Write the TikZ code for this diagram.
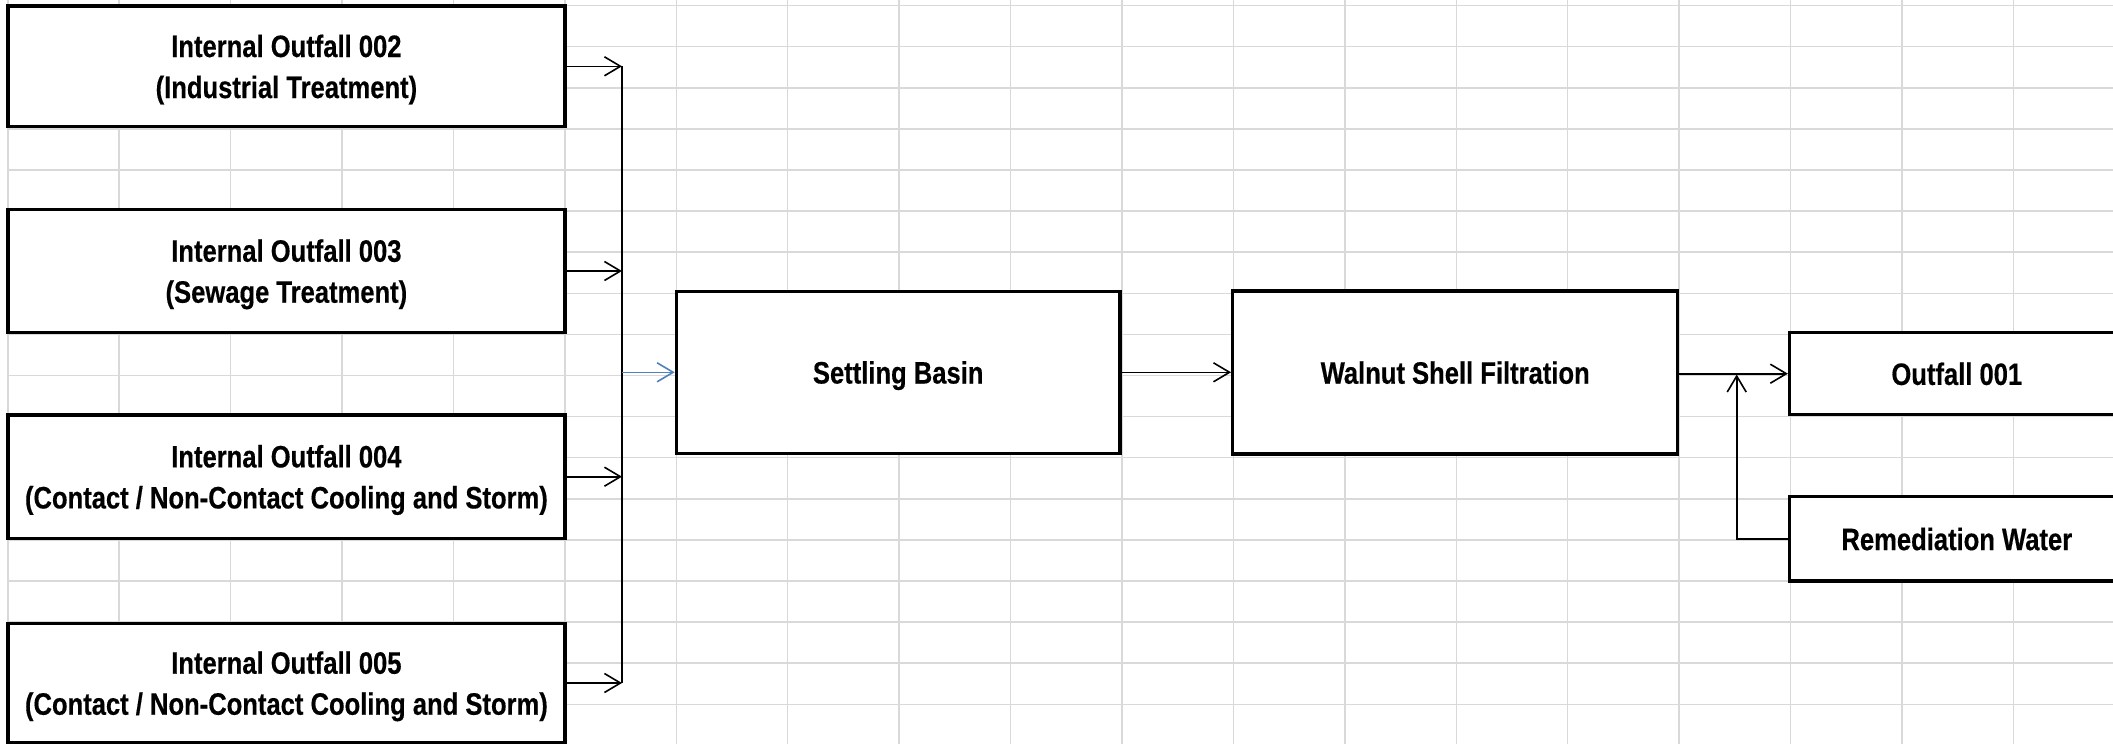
\documentclass[tikz,border=0pt]{standalone}
\usepackage{fontspec}
\setmainfont{Liberation Sans}[FakeStretch=0.825, BoldFeatures={FakeBold=0.4}]
\usetikzlibrary{arrows.meta}
\definecolor{gridgray}{RGB}{217,217,217}
\definecolor{arrowblue}{RGB}{79,129,189}
\tikzset{
  stage/.style={draw=black, line width=3.3pt, fill=white, inner sep=0pt, align=center,
    text depth=0pt, font=\fontsize{31}{41}\selectfont\bfseries},
  flow/.style={line width=1.6pt, -{Straight Barb[length=16pt,width=19pt]}},
  busline/.style={line width=1.6pt},
  gridline/.style={draw=gridgray, line width=1.5pt},
}
\begin{document}
\begin{tikzpicture}[x=1pt,y=-1pt]
\useasboundingbox (0,0) rectangle (2113,744);
\fill[white] (0,0) rectangle (2113,744);
% spreadsheet grid
\foreach \k in {0,...,18} \draw[gridline] ({7.8+111.42*\k},0) -- ({7.8+111.42*\k},744);
\foreach \k in {0,...,17} \draw[gridline] (7.8,{5.6+41.1*\k}) -- (2113,{5.6+41.1*\k});
% source boxes
\node[stage, minimum width=557.1pt, minimum height=120.5pt] (b002) at (286.4,66.3) {Internal Outfall 002\\(Industrial Treatment)};
\node[stage, minimum width=557.1pt, minimum height=123.4pt] (b003) at (286.4,271) {Internal Outfall 003\\(Sewage Treatment)};
\node[stage, minimum width=557.1pt, minimum height=123.3pt] (b004) at (286.4,476.7) {Internal Outfall 004\\(Contact / Non-Contact Cooling and Storm)};
\node[stage, minimum width=557.1pt, minimum height=119.4pt] (b005) at (286.4,683) {Internal Outfall 005\\(Contact / Non-Contact Cooling and Storm)};
% process boxes
\node[stage, minimum width=443.7pt, minimum height=162pt] (sb) at (898.2,372.3) {Settling Basin};
\node[stage, minimum width=445pt, minimum height=163pt] (wf) at (1455.2,372.5) {Walnut Shell Filtration};
\node[stage, minimum width=334.5pt, minimum height=82pt] (of) at (1956.8,373.7) {Outfall 001};
\node[stage, minimum width=334.5pt, minimum height=84.3pt] (rw) at (1956.8,538.9) {Remediation Water};
% helper coordinates
\coordinate (busx) at (622,0);
\coordinate (jn) at (1736.7,374.5);
% collector bus
\draw[busline] (b002.east -| busx) -- (b005.east -| busx);
\draw[flow] (b002.east) -- (b002.east -| busx);
\draw[flow] (b003.east) -- (b003.east -| busx);
\draw[flow] (b004.east) -- (b004.east -| busx);
\draw[flow] (b005.east) -- (b005.east -| busx);
\draw[flow, draw=arrowblue] (sb.west -| busx) -- (sb.west);
% main flow
\draw[flow] (sb.east) -- (sb.east -| wf.west);
\draw[flow] (of.west -| wf.east) -- (of.west);
\draw[flow] (rw.west) -| (jn);
\end{tikzpicture}
\end{document}
